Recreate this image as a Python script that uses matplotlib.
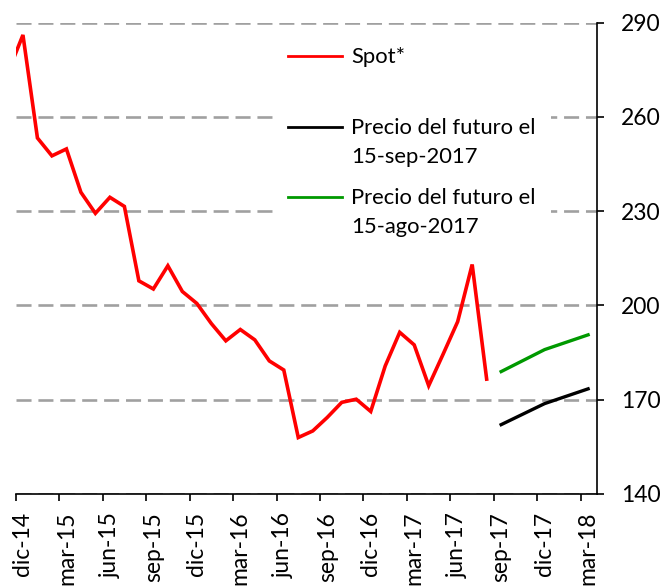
import matplotlib
matplotlib.use("Agg")
import matplotlib.pyplot as plt
from matplotlib.lines import Line2D

# ---------------- data ----------------
categories = [
    "nov-14", "dic-14", "ene-15", "feb-15", "mar-15", "abr-15", "may-15", "jun-15",
    "jul-15", "ago-15", "sep-15", "oct-15", "nov-15", "dic-15", "ene-16", "feb-16",
    "mar-16", "abr-16", "may-16", "jun-16", "jul-16", "ago-16", "sep-16", "oct-16",
    "nov-16", "dic-16", "ene-17", "feb-17", "mar-17", "abr-17", "may-17", "jun-17",
    "jul-17", "ago-17", "sep-17", "oct-17", "nov-17", "dic-17", "ene-18", "feb-18",
    "mar-18",
]
spot = [274.5, 286.1, 253.3, 247.6, 249.8, 236.0, 229.3, 234.4, 231.5, 207.8,
        205.2, 212.6, 204.4, 200.6, 194.2, 188.7, 192.3, 189.0, 182.3, 179.4,
        157.9, 160.0, 164.3, 169.1, 170.1, 166.2, 180.7, 191.4, 187.4, 174.4,
        184.5, 194.8, 213.0, 176.5]
fut_categories = ["sep-17", "dic-17", "mar-18"]
fut_sep = [162.0, 168.7, 173.4]   # Precio del futuro el 15-sep-2017
fut_ago = [178.9, 185.9, 190.6]   # Precio del futuro el 15-ago-2017
tick_labels = ["dic-14", "mar-15", "jun-15", "sep-15", "dic-15", "mar-16", "jun-16",
               "sep-16", "dic-16", "mar-17", "jun-17", "sep-17", "dic-17", "mar-18"]
y_ticks = [140, 170, 200, 230, 260, 290]
legend_labels = ["Spot*\n", "Precio del futuro el\n15-sep-2017",
                 "Precio del futuro el\n15-ago-2017"]

# ---------------- style ----------------
plt.rcParams['font.family'] = ['Lato', 'DejaVu Sans']
FS_TICK = 16.5
FS_LEG = 15.8

fig = plt.figure(figsize=(6.65, 5.87), dpi=100)
ax = fig.add_axes([0.0236, 0.1589, 0.8734, 0.8024])

x_spot = [categories.index(c) for c in categories[:len(spot)]]
x_fut = [categories.index(c) for c in fut_categories]

ax.plot(x_spot, spot, color="#ff0000", lw=2.6, solid_joinstyle="miter", zorder=3)
ax.plot(x_fut, fut_sep, color="#000000", lw=2.4, zorder=3)
ax.plot(x_fut, fut_ago, color="#009900", lw=2.4, zorder=3)

ax.set_xlim(0.5, 40.58)
ax.set_ylim(y_ticks[0], y_ticks[-1])

# y axis on the right
ax.set_yticks(y_ticks)
ax.yaxis.tick_right()
ax.tick_params(axis="y", direction="out", length=5.3, width=1.2, pad=12.5,
               labelsize=FS_TICK, colors="black")
ax.yaxis.grid(True, linestyle=(0, (5.7, 2.6)), color="#a0a0a0", lw=1.9)
ax.set_axisbelow(True)

# x axis: tick marks between categories, labels centred on categories
pos_labels = [categories.index(c) for c in tick_labels]
ax.set_xticks([p - 0.5 for p in pos_labels])
ax.set_xticklabels([""] * len(pos_labels))
ax.set_xticks(pos_labels, minor=True)
ax.set_xticklabels(tick_labels, minor=True, rotation=90, fontsize=FS_TICK)
ax.tick_params(axis="x", which="major", direction="out", length=5, width=1.2)
ax.tick_params(axis="x", which="minor", length=0, pad=13)
for lab in ax.get_xticklabels(minor=True):
    lab.set_verticalalignment("top")

for s in ("left", "top"):
    ax.spines[s].set_visible(False)
for s in ("right", "bottom"):
    ax.spines[s].set_linewidth(1.2)
    ax.spines[s].set_color("black")

handles = [Line2D([], [], color="#ff0000", lw=2.0),
           Line2D([], [], color="#000000", lw=2.0),
           Line2D([], [], color="#009900", lw=2.0)]
leg = ax.legend(handles, legend_labels, loc="upper left",
                bbox_to_anchor=(0.443, 0.98), fontsize=FS_LEG,
                frameon=True, facecolor="white", edgecolor="none", framealpha=1,
                fancybox=False, borderpad=0.7, handlelength=2.46,
                handletextpad=0.41, labelspacing=0.93, handleheight=1.1,
                borderaxespad=0)
leg.set_zorder(5)
for t in leg.get_texts():
    t.set_linespacing(1.6)
for col in leg._legend_handle_box.get_children():
    for hp in col.get_children():
        hp.align = "top"

fig.savefig("out.png", dpi=100)
